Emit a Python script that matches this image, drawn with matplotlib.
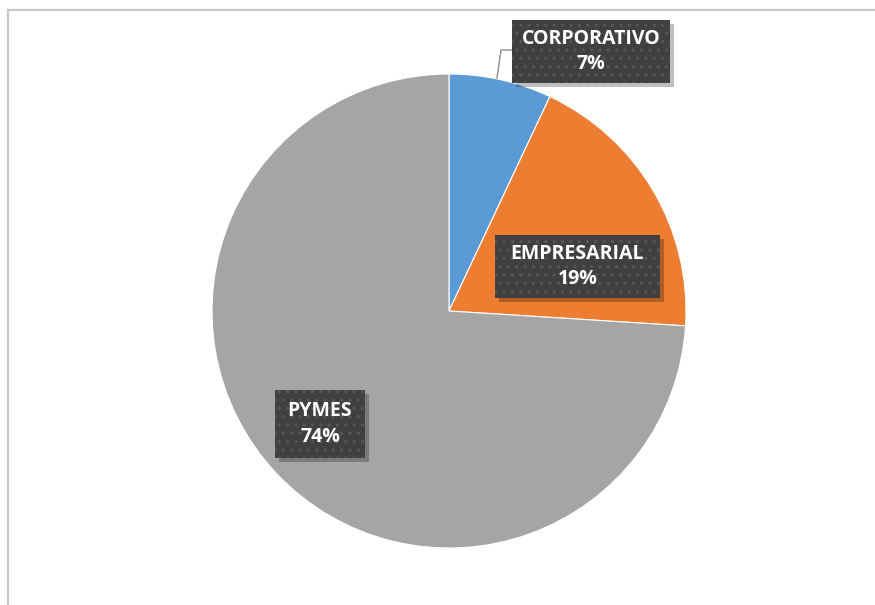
import matplotlib.pyplot as plt
from matplotlib.patches import Rectangle

segmentos = ['CORPORATIVO', 'EMPRESARIAL', 'PYMES']
porcentajes = [7, 19, 74]
colores = ['#5B9BD5', '#ED7D31', '#A5A5A5']

plt.rcParams['hatch.linewidth'] = 1.2

fig = plt.figure(figsize=(8.75, 6.05), dpi=100)
ax = fig.add_axes([0, 0, 1, 1])

# marco del grafico
ax.plot([8, 875], [595, 595], color='#C8C8C8', lw=1.6)
ax.plot([8, 8], [0, 595], color='#C8C8C8', lw=1.6)

ax.pie(porcentajes, colors=colores, startangle=90, counterclock=False,
       center=(449, 294), radius=237, frame=True,
       wedgeprops=dict(linewidth=0.8, edgecolor='white'))
ax.set_xlim(0, 875)
ax.set_ylim(0, 605)
ax.set_aspect('equal')
ax.axis('off')

# linea guia de la etiqueta pequena
ax.plot([497, 501, 512], [527, 555, 555], color='#8C8C8C', lw=1)

# cajas de etiquetas (x, y inferior, ancho, alto)
cajas = [(512, 522, 158, 63), (495, 307, 165, 63), (275, 147, 90, 68)]
for (x, y, w, h), seg, pct in zip(cajas, segmentos, porcentajes):
    ax.add_patch(Rectangle((x + 4, y - 4), w, h, facecolor='#000000',
                           alpha=0.25, lw=0, zorder=4))
    ax.add_patch(Rectangle((x, y), w, h, facecolor='#404040',
                           edgecolor='#555555', hatch='..', lw=0, zorder=5))
    ax.text(x + w / 2, y + h / 2, f'{seg}\n{pct}%', ha='center', va='center',
            color='white', fontsize=14, fontweight='bold', family='Open Sans',
            linespacing=1.35, zorder=6)

fig.savefig('out.png', dpi=100)
